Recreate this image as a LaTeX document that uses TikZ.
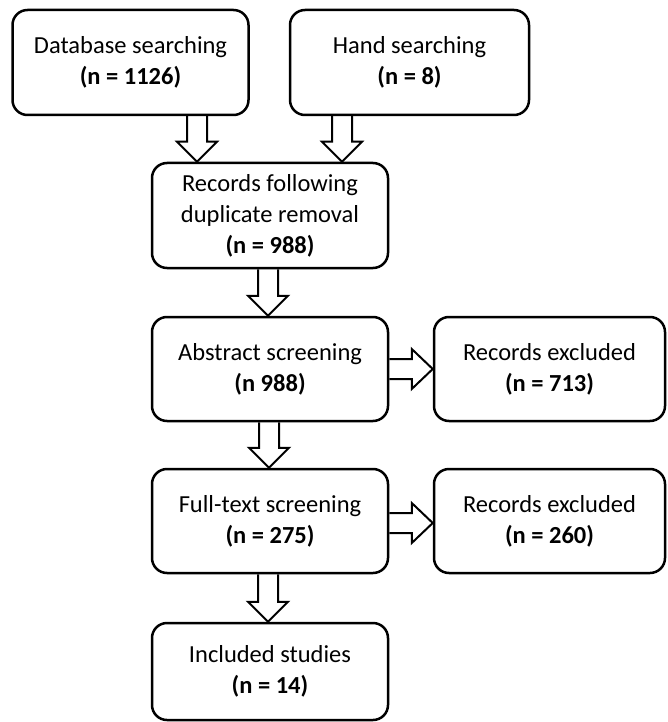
\documentclass[tikz,border=0pt]{standalone}
\usepackage{fontspec}
\setmainfont{Carlito}
\usetikzlibrary{calc}
\tikzset{
  box/.style={draw, line width=2.5pt, rounded corners=15pt, align=center,
    font=\fontsize{24.5}{31}\selectfont, text=black, inner sep=0pt},
  blk/.style={draw, line width=2pt, line join=miter},
}
\newcommand\vblk[3]{%
  \path (#3,0 |- #1.south) coordinate (s) (#3,0 |- #2.north) coordinate (t);
  \draw[blk] ($(s)+(-10,0)$) -- ($(t)+(-10,-20)$) -- ($(t)+(-20,-20)$) -- (t)
    -- ($(t)+(20,-20)$) -- ($(t)+(10,-20)$) -- ($(s)+(10,0)$);
}
\newcommand\hblk[3]{%
  \path (#1.east |- 0,#3) coordinate (s) (#2.west |- 0,#3) coordinate (t);
  \draw[blk] ($(s)+(0,-10)$) -- ($(t)+(-21,-10)$) -- ($(t)+(-21,-20)$) -- (t)
    -- ($(t)+(-21,20)$) -- ($(t)+(-21,10)$) -- ($(s)+(0,10)$);
}
\begin{document}
\begin{tikzpicture}[x=1pt,y=-1pt]
\useasboundingbox (0,0) rectangle (667,722);
\node[box, minimum width=236pt, minimum height=105pt] (db) at (130.5,62.5)
  {Database searching\\\textbf{(n = 1126)}};
\node[box, minimum width=239pt, minimum height=105pt] (hand) at (409.5,62.5)
  {Hand searching\\\textbf{(n = 8)}};
\node[box, minimum width=236pt, minimum height=105pt] (rec) at (270,215.5)
  {Records following\\duplicate removal\\\textbf{(n = 988)}};
\node[box, minimum width=236pt, minimum height=104pt] (abs) at (270,369)
  {Abstract screening\\\textbf{(n 988)}};
\node[box, minimum width=231pt, minimum height=104pt] (exa) at (549.5,369)
  {Records excluded\\\textbf{(n = 713)}};
\node[box, minimum width=236pt, minimum height=104pt] (full) at (270,521)
  {Full-text screening\\\textbf{(n = 275)}};
\node[box, minimum width=231pt, minimum height=104pt] (exb) at (549.5,521)
  {Records excluded\\\textbf{(n = 260)}};
\node[box, minimum width=236pt, minimum height=97pt] (inc) at (270,671.5)
  {Included studies\\\textbf{(n = 14)}};
\vblk{db}{rec}{197}
\vblk{hand}{rec}{342}
\vblk{rec}{abs}{268}
\vblk{abs}{full}{269}
\vblk{full}{inc}{268}
\hblk{abs}{exa}{369}
\hblk{full}{exb}{523}
\end{tikzpicture}
\end{document}
